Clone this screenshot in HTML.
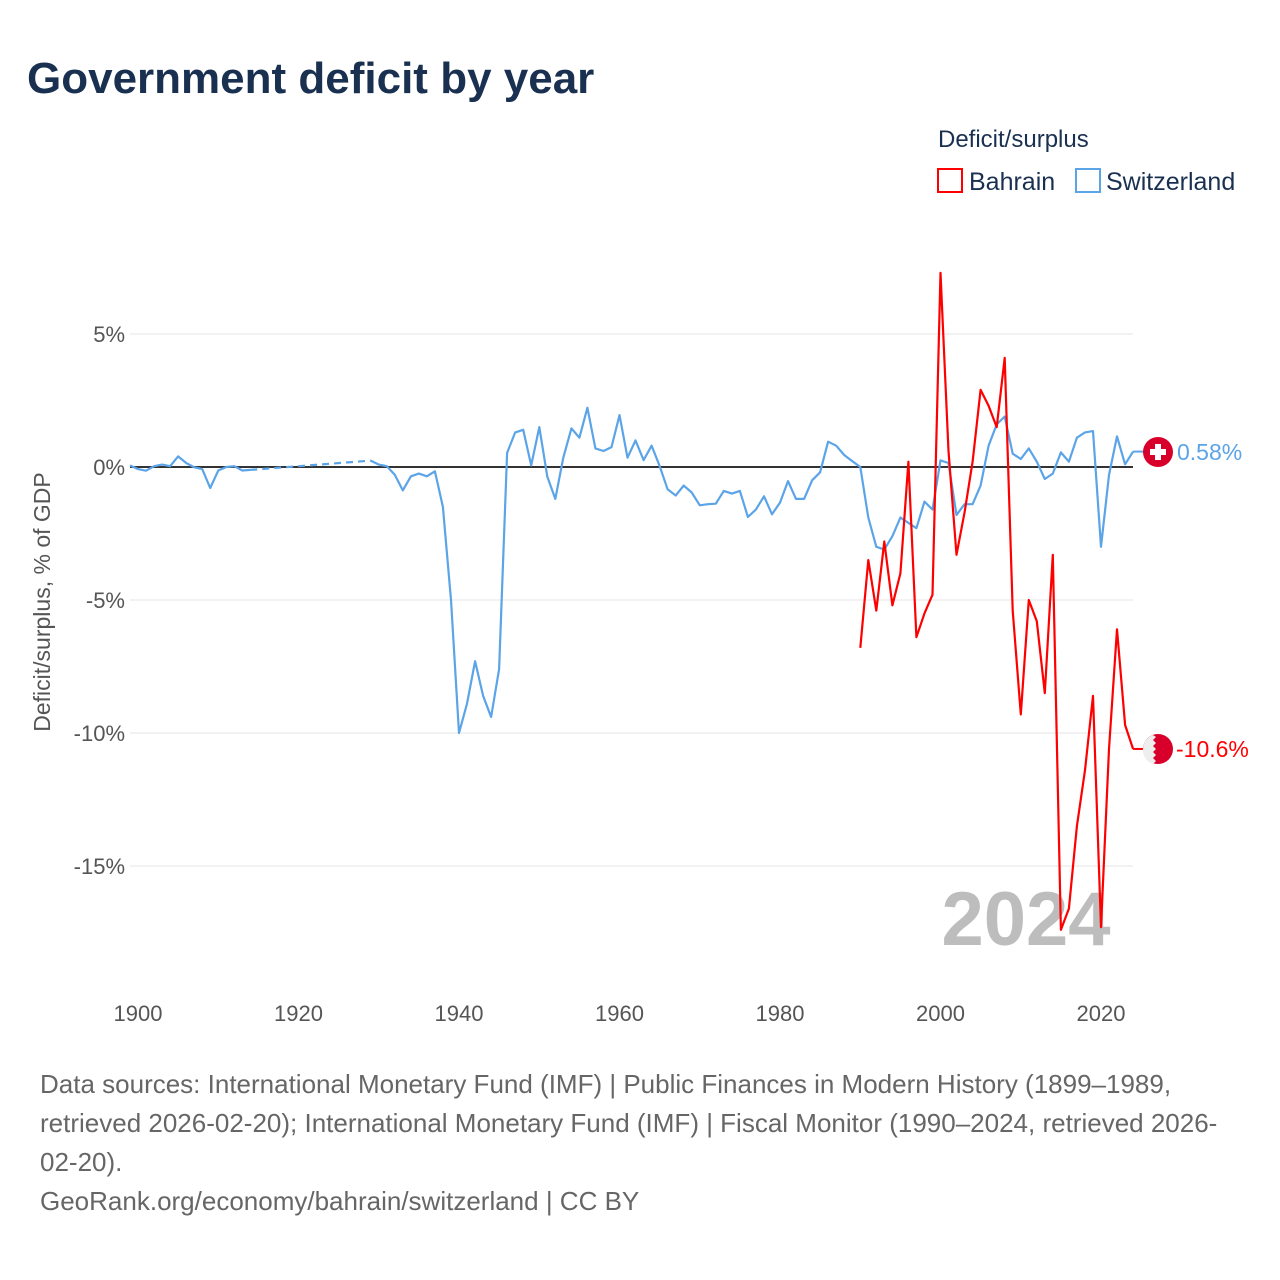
<!DOCTYPE html>
<html><head><meta charset="utf-8">
<style>
body{margin:0;width:1280px;height:1280px;background:#fff;font-family:"Liberation Sans",sans-serif;overflow:hidden}
svg{display:block}
</style></head>
<body>
<svg id="chart" width="1280" height="1280" xmlns="http://www.w3.org/2000/svg">
<text x="27" y="93" font-size="44" font-weight="bold" fill="#1a3050">Government deficit by year</text>
<g>
<text x="938" y="147" font-size="24" fill="#1a3050">Deficit/surplus</text>
<g>
<rect x="938" y="169" width="24" height="23" fill="none" stroke="#ff0000" stroke-width="2"/>
<text x="969" y="190" font-size="25" fill="#1a3050">Bahrain</text></g>
<g>
<rect x="1076" y="169" width="24" height="23" fill="none" stroke="#5ba4e8" stroke-width="2"/>
<text x="1106" y="190" font-size="25" fill="#1a3050">Switzerland</text></g>
</g>
<g id="grid"></g>
<g id="yticks"></g>
<g id="xticks"></g>
<text transform="translate(50,602) rotate(-90)" text-anchor="middle" font-size="23" fill="#555">Deficit/surplus, % of GDP</text>
<text x="1026" y="945" text-anchor="middle" font-size="76" font-weight="bold" fill="#bdbdbd">2024</text>
<line x1="130" x2="1133" y1="467" y2="467" stroke="#333" stroke-width="2"/>
<g id="series"></g>
<g>
<circle cx="1158" cy="452" r="15" fill="#d8002b"/>
<rect x="1155" y="444" width="6" height="16" fill="#fff"/><rect x="1150" y="449" width="16" height="6" fill="#fff"/>
</g>
<text id="chLabel" x="1177" y="460" font-size="23" fill="#5ba4e8">0.58%</text>
<g>
<circle cx="1158" cy="749" r="15" fill="#d8002b"/>
<path d="M1143,749 a15,15 0 0 1 10,-14 l3,2 -3,3 3,3 -3,3 3,3 -3,3 3,3 -3,3 3,3 -3,3 a15,15 0 0 1 -10,-16z" fill="#eee"/>
</g>
<text id="bhLabel" x="1176" y="757" font-size="23" fill="#ff0000">-10.6%</text>
<g font-size="26" fill="#666">
<text x="40" y="1093">Data sources: International Monetary Fund (IMF) | Public Finances in Modern History (1899–1989,</text>
<text x="40" y="1132">retrieved 2026-02-20); International Monetary Fund (IMF) | Fiscal Monitor (1990–2024, retrieved 2026-</text>
<text x="40" y="1171">02-20).</text>
<text x="40" y="1210">GeoRank.org/economy/bahrain/switzerland | CC BY</text>
</g>
</svg>
<script>
const yTicks=[5,0,-5,-10,-15];
const yTickLabels=["5%","0%","-5%","-10%","-15%"];
const xTicks=[1900,1920,1940,1960,1980,2000,2020];
const chYears1=[1899,1900,1901,1902,1903,1904,1905,1906,1907,1908,1909,1910,1911,1912,1913,1914];
const chValues1=[0.06,-0.08,-0.14,0.03,0.09,0.03,0.4,0.15,-0.01,-0.08,-0.79,-0.13,0.0,0.03,-0.13,-0.11];
const chYears2=[1929,1930,1931,1932,1933,1934,1935,1936,1937,1938,1939,1940,1941,1942,1943,1944,1945,1946,1947,1948,1949,1950,1951,1952,1953,1954,1955,1956,1957,1958,1959,1960,1961,1962,1963,1964,1965,1966,1967,1968,1969,1970,1971,1972,1973,1974,1975,1976,1977,1978,1979,1980,1981,1982,1983,1984,1985,1986,1987,1988,1989,1990,1991,1992,1993,1994,1995,1996,1997,1998,1999,2000,2001,2002,2003,2004,2005,2006,2007,2008,2009,2010,2011,2012,2013,2014,2015,2016,2017,2018,2019,2020,2021,2022,2023,2024];
const chValues2=[0.24,0.09,0.03,-0.29,-0.88,-0.35,-0.25,-0.35,-0.16,-1.5,-5.0,-10.0,-8.9,-7.3,-8.6,-9.4,-7.6,0.53,1.3,1.4,0.06,1.5,-0.36,-1.2,0.35,1.45,1.1,2.23,0.7,0.6,0.75,1.95,0.35,1.0,0.26,0.8,0.04,-0.84,-1.07,-0.7,-0.96,-1.44,-1.4,-1.38,-0.9,-1.0,-0.9,-1.88,-1.6,-1.1,-1.78,-1.34,-0.53,-1.2,-1.2,-0.5,-0.2,0.95,0.8,0.45,0.22,0.0,-1.9,-3.0,-3.1,-2.6,-1.9,-2.1,-2.3,-1.3,-1.6,0.25,0.15,-1.8,-1.4,-1.4,-0.7,0.8,1.6,1.9,0.5,0.3,0.7,0.2,-0.45,-0.25,0.55,0.2,1.1,1.3,1.35,-3.0,-0.3,1.15,0.1,0.58];
const bhYears=[1990,1991,1992,1993,1994,1995,1996,1997,1998,1999,2000,2001,2002,2003,2004,2005,2006,2007,2008,2009,2010,2011,2012,2013,2014,2015,2016,2017,2018,2019,2020,2021,2022,2023,2024];
const bhValues=[-6.8,-3.5,-5.4,-2.8,-5.2,-4.0,0.2,-6.4,-5.5,-4.8,7.3,0.6,-3.3,-1.7,0.2,2.9,2.3,1.5,4.1,-5.4,-9.3,-5.0,-5.8,-8.5,-3.3,-17.4,-16.6,-13.5,-11.4,-8.6,-17.3,-10.6,-6.1,-9.7,-10.6];

const NS="http://www.w3.org/2000/svg";
const xs=y=>138+(y-1900)*963/120;
const ys=v=>467-v*26.6;
function mk(tag,attrs,parent){const e=document.createElementNS(NS,tag);for(const k in attrs)e.setAttribute(k,attrs[k]);parent.appendChild(e);return e;}
const grid=document.getElementById('grid'),yt=document.getElementById('yticks'),xt=document.getElementById('xticks'),ser=document.getElementById('series');
yTicks.forEach((v,i)=>{
  if(v!==0){const g=mk('line',{x1:130,x2:1133,y1:ys(v),y2:ys(v),stroke:'#e6e6e6','stroke-width':1},grid);
  
  }
  const t=mk('text',{x:125,y:ys(v)+8,'text-anchor':'end','font-size':22,fill:'#555'},yt);
  t.textContent=yTickLabels[i];
  
  
});
xTicks.forEach(yr=>{
  const t=mk('text',{x:xs(yr),y:1021,'text-anchor':'middle','font-size':22,fill:'#555'},xt);
  t.textContent=yr;
  
  
});
function pts(ya,va){return ya.map((y,i)=>xs(y).toFixed(1)+','+ys(va[i]).toFixed(1)).join(' ');}
const s1=mk('polyline',{points:pts(chYears1,chValues1),fill:'none',stroke:'#5ba4e8','stroke-width':2.2,'stroke-linejoin':'round'},ser);


const gapY=[chYears1[chYears1.length-1],chYears2[0]],gapV=[chValues1[chValues1.length-1],chValues2[0]];
const sg=mk('polyline',{points:pts(gapY,gapV),fill:'none',stroke:'#5ba4e8','stroke-width':2.2,'stroke-dasharray':'7,5'},ser);


const s2=mk('polyline',{points:pts(chYears2,chValues2),fill:'none',stroke:'#5ba4e8','stroke-width':2.2,'stroke-linejoin':'round'},ser);


const s3=mk('polyline',{points:pts(bhYears,bhValues),fill:'none',stroke:'#ff0000','stroke-width':2.2,'stroke-linejoin':'round'},ser);


const cLast=chValues2[chValues2.length-1],bLast=bhValues[bhValues.length-1];
const c1=mk('line',{x1:xs(2024),x2:1143,y1:ys(cLast),y2:ys(cLast),stroke:'#5ba4e8','stroke-width':2},ser);


const c2=mk('line',{x1:xs(2024),x2:1143,y1:ys(bLast),y2:ys(bLast),stroke:'#ff0000','stroke-width':2},ser);


</script>
</body></html>
